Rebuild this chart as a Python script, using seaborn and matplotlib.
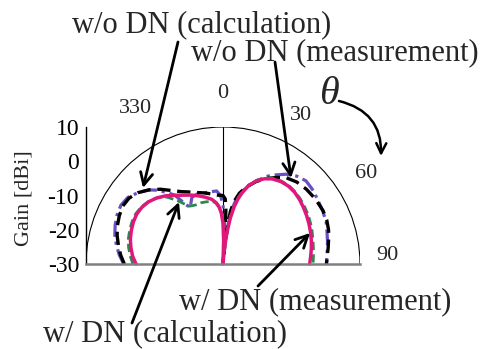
import numpy as np
import pandas as pd
import matplotlib
matplotlib.use("Agg")
import matplotlib.pyplot as plt
from matplotlib.patches import Arc
import seaborn as sns

sns.set_style("white")
plt.rcParams["font.family"] = ["Liberation Serif", "DejaVu Serif"]

# Radiation patterns (angle in degrees, gain in dBi)
theta_wo_calc = [-90, -85, -80, -75, -70, -65, -60, -55, -50, -45, -40, -35, -30, -25,
                 -20, -15, -10, -5, 0, 2, 3, 4, 5, 6, 7, 8, 10, 13, 17, 22, 27, 32,
                 36, 42, 48, 55, 62, 67, 72, 76, 81, 85, 90]
gain_wo_calc = [-1.2, 0.0, 1.0, 2.0, 2.8, 3.4, 3.8, 3.5, 2.4, 0.6, -1.5, -3.8, -5.6, -6.8,
                -7.8, -8.5, -9.2, -9.8, -10.0, -11.0, -14.0, -20.0, -27.0, -24.0, -18.0, -14.5,
                -11.5, -8.8, -6.4, -4.0, -2.0, -0.2, 1.2, 2.2, 2.7, 3.0, 3.1, 2.9, 2.4, 1.8,
                1.1, 0.6, 0.2]

theta_wo_meas = [-90, -85, -80, -75, -70, -65, -60, -55, -50, -45, -42, -38, -35, -32, -30,
                 -28, -25, -20, -15, -10, -5, -2, 0, 2, 4, 5, 7, 9, 12, 17, 22, 27, 30, 35,
                 40, 45, 50, 55, 62, 68, 72, 78, 85, 90]
gain_wo_meas = [-1.0, 0.4, 1.6, 2.7, 3.5, 4.1, 4.4, 3.9, 2.4, 0.6, -1.0, -3.5, -5.5, -9.5,
                -11.0, -10.0, -8.5, -8.2, -8.5, -8.6, -8.6, -10.0, -13.0, -18.0, -24.0, -27.0,
                -19.0, -14.0, -10.0, -6.5, -3.8, -1.2, 0.0, 2.0, 3.5, 4.3, 4.0, 3.5, 3.0,
                2.5, 1.9, 1.2, 0.5, 0.2]

theta_w_calc = [-90, -85, -80, -75, -70, -65, -60, -55, -50, -45, -40, -36, -33, -30, -25,
                -20, -15, -10, -6, -3, 0, 2, 3, 5, 7, 9, 11, 13, 15, 18, 22, 26, 30, 35, 40,
                45, 50, 55, 60, 65, 70, 75, 80, 85, 90]
gain_w_calc = [-3.7, -2.8, -2.0, -1.4, -1.0, -0.7, -0.6, -0.9, -1.6, -2.7, -4.5, -7.0, -9.0,
               -10.5, -11.0, -11.0, -11.2, -11.5, -12.0, -13.5, -17.0, -22.0, -27.0, -25.0,
               -20.0, -15.5, -12.5, -10.0, -8.2, -5.8, -3.6, -2.1, -1.1, -0.4, -0.1, -0.2,
               -0.5, -0.9, -1.3, -1.8, -2.3, -2.8, -3.2, -3.5, -3.7]

theta_w_meas = [-90, -85, -80, -75, -70, -65, -60, -55, -50, -45, -40, -35, -30, -25, -20,
                -15, -10, -7, -4, -2, 0, 1.5, 3, 5, 7, 9, 11, 13, 15, 18, 22, 26, 30, 35, 40,
                45, 50, 55, 60, 65, 70, 75, 80, 85, 90]
gain_w_meas = [-4.6, -3.5, -2.7, -2.0, -1.5, -1.1, -0.9, -1.1, -1.7, -2.7, -4.0, -5.5, -6.8,
               -7.8, -8.8, -9.8, -10.8, -11.8, -13.3, -15.0, -18.0, -23.0, -30.0, -26.0,
               -21.0, -16.5, -13.0, -10.5, -8.5, -6.0, -3.8, -2.3, -1.3, -0.6, -0.3, -0.4,
               -0.8, -1.3, -1.8, -2.3, -2.8, -3.3, -3.8, -4.3, -4.7]

gain_ticks = [-30, -20, -10, 0, 10]
angle_labels = ["330", "0", "30", "60", "90"]

R_MIN, R_MAX = -30, 10
W, H = 483, 349


def to_xy(theta_deg, gain):
    """Polar (angle from zenith, clockwise; gain in dBi) -> Cartesian plot coordinates."""
    t = np.deg2rad(np.asarray(theta_deg, dtype=float))
    d = np.clip(np.asarray(gain, dtype=float) - R_MIN, 0, None)
    return pd.DataFrame({"x": d * np.sin(t), "y": d * np.cos(t)})


def fig_pt(x, y):
    """Top-left pixel position -> figure fraction."""
    return (x / W, 1 - y / H)


fig = plt.figure(figsize=(W / 100, H / 100), dpi=100)
span = R_MAX - R_MIN
ax = fig.add_axes([86 / W, 85 / H, 274 / W, 137 / H])
ax.set_xlim(-span, span)
ax.set_ylim(0, span)

# Frame: outer half circle and the 0-degree line
ax.add_patch(Arc((0, 0), 2 * span, 2 * span, theta1=0, theta2=180, lw=0.8, color="black"))
ax.plot([0, 0], [0, span], color="black", lw=0.8)

series = [
    (theta_wo_meas, gain_wo_meas, "#6a4fc0", (0, (5, 1.5, 1, 1.5)), 2.3),
    (theta_wo_calc, gain_wo_calc, "black", (0, (4, 2)), 2.4),
    (theta_w_calc, gain_w_calc, "#2a8a4c", (0, (3, 1.5)), 2.0),
    (theta_w_meas, gain_w_meas, "#e0187c", "-", 2.5),
]
for th, g, col, ls, lw in series:
    df = to_xy(th, g)
    sns.lineplot(data=df, x="x", y="y", sort=False, estimator=None, ax=ax,
                 color=col, linestyle=ls, lw=lw, clip_on=False)

# Axes styling
for s in ["top", "right"]:
    ax.spines[s].set_visible(False)
ax.spines["left"].set_color("black")
ax.spines["left"].set_linewidth(1.0)
ax.spines["bottom"].set_color("#808080")
ax.spines["bottom"].set_linewidth(1.8)
ax.set_xticks([])
ax.set_yticks([g - R_MIN for g in gain_ticks])
ax.set_yticklabels([str(g) for g in gain_ticks], fontsize=17)
ax.tick_params(axis="y", direction="in", length=9, width=1.0, pad=5, colors="black")
ax.set_xlabel("")
ax.set_ylabel("")
fig.text(*fig_pt(24, 198), "Gain [dBi]", rotation=90, ha="center", va="center", fontsize=16)

# Angle labels
angle_pos = [(135, 108), (223, 93), (301, 115), (366, 173), (387, 255)]
for lab, (px, py) in zip(angle_labels, angle_pos):
    fig.text(*fig_pt(px, py), lab, ha="center", va="center", fontsize=16)

fig.text(*fig_pt(329, 95), "θ", ha="center", va="center", fontsize=29, style="italic")
ax.annotate("", xy=fig_pt(381, 156), xycoords="figure fraction",
            xytext=fig_pt(339, 101), textcoords="figure fraction",
            arrowprops=dict(arrowstyle="->", lw=1.8, color="black", mutation_scale=18,
                            connectionstyle="arc3,rad=-0.4", shrinkA=0, shrinkB=0))

# Callouts
callouts = [
    ("w/o DN (calculation)", (202, 25), (178, 42), (143, 188)),
    ("w/o DN (measurement)", (335, 53), (275, 62), (291, 178)),
    ("w/ DN (measurement)", (315, 302), (258, 286), (310, 233)),
    ("w/ DN (calculation)", (165, 334), (132, 323), (179, 202)),
]
for txt, tpos, tail, tip in callouts:
    fig.text(*fig_pt(*tpos), txt, ha="center", va="center", fontsize=22)
    ax.annotate("", xy=fig_pt(*tip), xycoords="figure fraction",
                xytext=fig_pt(*tail), textcoords="figure fraction",
                arrowprops=dict(arrowstyle="->", lw=2.0, color="black", mutation_scale=22,
                                shrinkA=0, shrinkB=0))

fig.savefig("out.png", dpi=100)
